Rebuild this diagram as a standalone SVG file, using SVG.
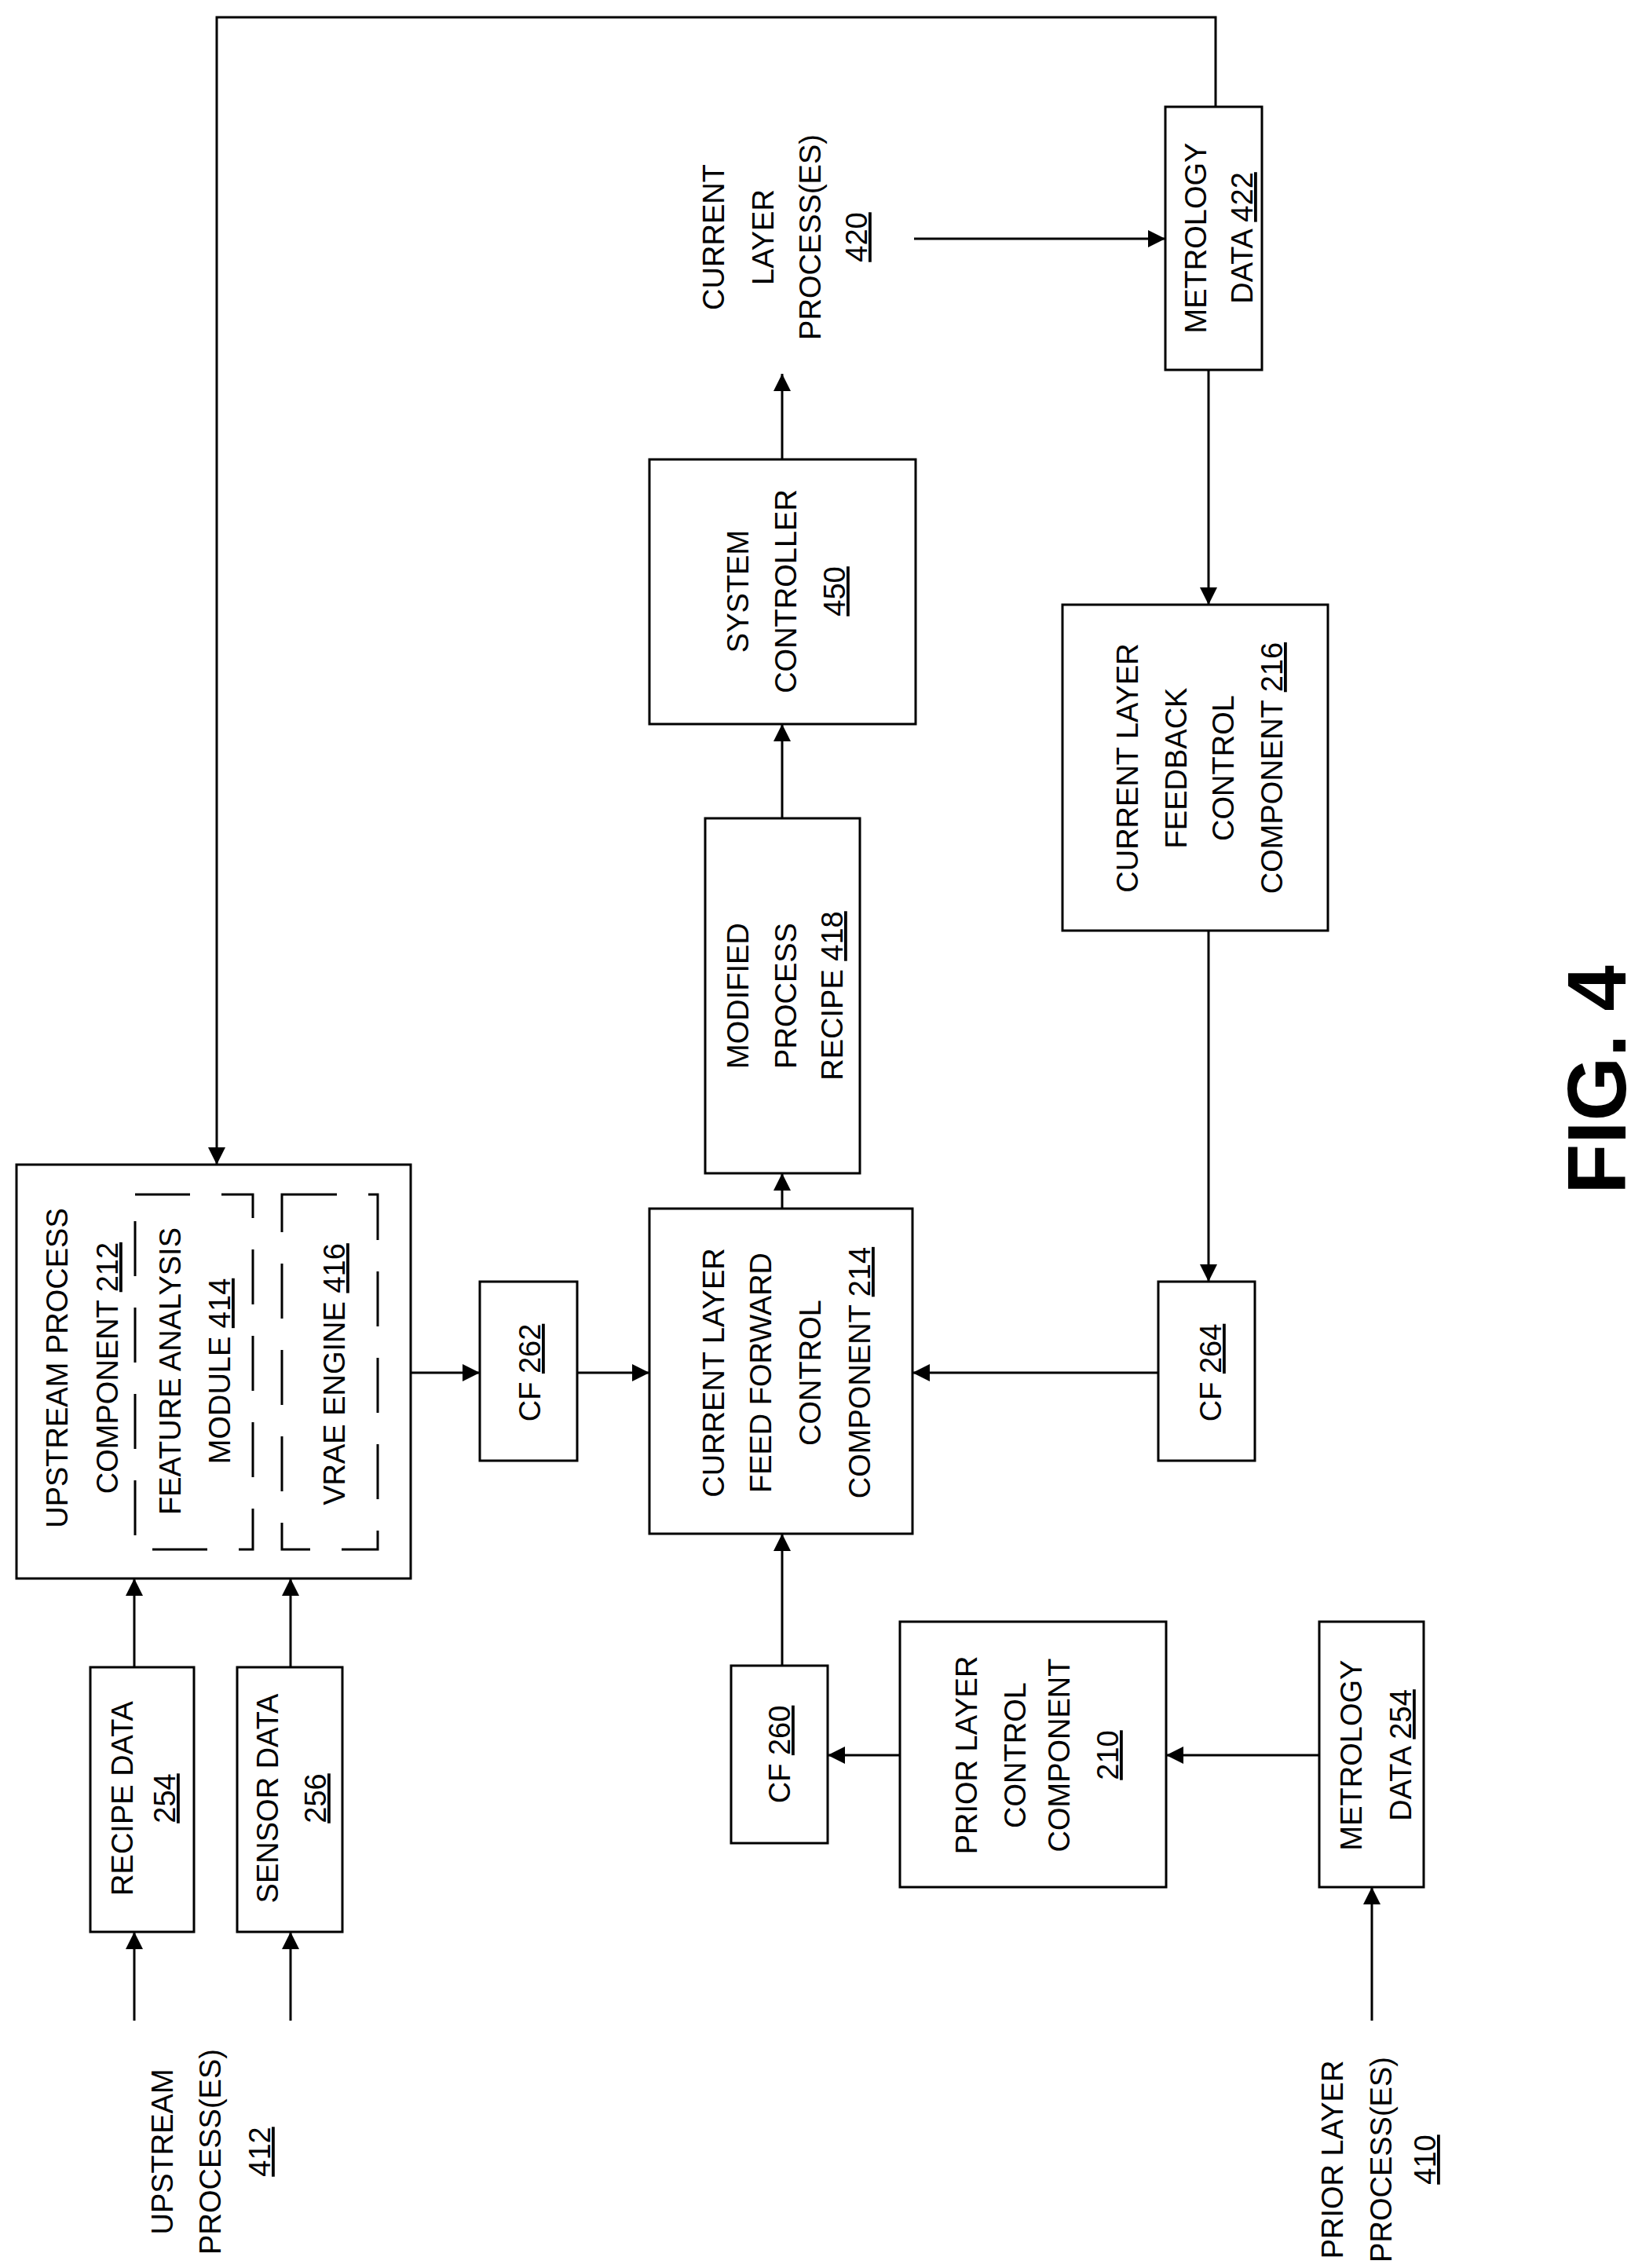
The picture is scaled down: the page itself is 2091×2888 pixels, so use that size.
<svg xmlns="http://www.w3.org/2000/svg" width="2091" height="2888" viewBox="0 0 2091 2888">
<style>
.b{fill:none;stroke:#000;stroke-width:3}
.d{fill:none;stroke:#000;stroke-width:3;stroke-dasharray:70,40}
.c{fill:none;stroke:#000;stroke-width:3;marker-end:url(#a)}
text{font-family:"Liberation Sans",Arial,sans-serif;font-size:38px;fill:#000;text-anchor:middle}
.u{text-decoration:underline}
.fig{font-size:105px;font-weight:bold}
</style>
<defs><marker id="a" viewBox="0 0 10 10" refX="10" refY="5" markerWidth="22" markerHeight="22" markerUnits="userSpaceOnUse" orient="auto"><path d="M0,0 L10,5 L0,10 z" fill="#000"/></marker></defs>
<g id="connectors">
<path class="c" d="M1548,136 V22 H276 V1483"/>
<path class="c" d="M1164,304 H1484"/>
<path class="c" d="M1539,471 V770"/>
<path class="c" d="M1539,1185 V1632"/>
<path class="c" d="M1475,1748 H1162"/>
<path class="c" d="M996,1539 V1494"/>
<path class="c" d="M996,1042 V922"/>
<path class="c" d="M996,585 V476"/>
<path class="c" d="M996,2121 V1953"/>
<path class="c" d="M1146,2235 H1054"/>
<path class="c" d="M1680,2235 H1485"/>
<path class="c" d="M1747,2573 V2403"/>
<path class="c" d="M523,1748 H611"/>
<path class="c" d="M735,1748 H827"/>
<path class="c" d="M171,2123 V2010"/>
<path class="c" d="M370,2123 V2010"/>
<path class="c" d="M171,2573 V2460"/>
<path class="c" d="M370,2573 V2460"/>
</g>
<g id="upstream212"><rect class="b" x="21" y="1483" width="502" height="527"/>
<g transform="translate(0,1742) rotate(-90)"><text y="86">UPSTREAM PROCESS</text><text y="150">COMPONENT <tspan class="u">212</tspan></text></g></g>
<g id="feature414"><rect class="d" x="172" y="1521" width="150" height="452"/>
<g transform="translate(0,1746) rotate(-90)"><text y="230">FEATURE ANALYSIS</text><text y="293">MODULE <tspan class="u">414</tspan></text></g></g>
<g id="vrae416"><rect class="d" x="359" y="1521" width="122" height="452"/>
<g transform="translate(0,1750) rotate(-90)"><text y="439">VRAE ENGINE <tspan class="u">416</tspan></text></g></g>
<g id="cf262"><rect class="b" x="611" y="1632" width="124" height="228"/>
<g transform="translate(0,1748) rotate(-90)"><text y="688">CF <tspan class="u">262</tspan></text></g></g>
<g id="clff214"><rect class="b" x="827" y="1539" width="335" height="414"/>
<g transform="translate(0,1748) rotate(-90)"><text y="922">CURRENT LAYER</text><text y="982">FEED FORWARD</text><text y="1045">CONTROL</text><text y="1108">COMPONENT <tspan class="u">214</tspan></text></g></g>
<g id="recipe254"><rect class="b" x="115" y="2123" width="132" height="337"/>
<g transform="translate(0,2290) rotate(-90)"><text y="169">RECIPE DATA</text><text y="223" class="u">254</text></g></g>
<g id="sensor256"><rect class="b" x="302" y="2123" width="134" height="337"/>
<g transform="translate(0,2290) rotate(-90)"><text y="354">SENSOR DATA</text><text y="415" class="u">256</text></g></g>
<g id="upstream412"><g transform="translate(0,2740) rotate(-90)"><text y="220">UPSTREAM</text><text y="281">PROCESS(ES)</text><text y="344" class="u">412</text></g></g>
<g id="cf260"><rect class="b" x="931" y="2121" width="123" height="226"/>
<g transform="translate(0,2234) rotate(-90)"><text y="1006">CF <tspan class="u">260</tspan></text></g></g>
<g id="prior210"><rect class="b" x="1146" y="2065" width="339" height="338"/>
<g transform="translate(0,2235) rotate(-90)"><text y="1244">PRIOR LAYER</text><text y="1306">CONTROL</text><text y="1362">COMPONENT</text><text y="1424" class="u">210</text></g></g>
<g id="metrology254"><rect class="b" x="1680" y="2065" width="133" height="338"/>
<g transform="translate(0,2235) rotate(-90)"><text y="1734">METROLOGY</text><text y="1797">DATA <tspan class="u">254</tspan></text></g></g>
<g id="prior410"><g transform="translate(0,2750) rotate(-90)"><text y="1710">PRIOR LAYER</text><text y="1772">PROCESS(ES)</text><text y="1828" class="u">410</text></g></g>
<g id="cf264"><rect class="b" x="1475" y="1632" width="123" height="228"/>
<g transform="translate(0,1748) rotate(-90)"><text y="1555">CF <tspan class="u">264</tspan></text></g></g>
<g id="clfb216"><rect class="b" x="1353" y="770" width="338" height="415"/>
<g transform="translate(0,978) rotate(-90)"><text y="1449">CURRENT LAYER</text><text y="1511">FEEDBACK</text><text y="1571">CONTROL</text><text y="1633">COMPONENT <tspan class="u">216</tspan></text></g></g>
<g id="metrology422"><rect class="b" x="1484" y="136" width="123" height="335"/>
<g transform="translate(0,303) rotate(-90)"><text y="1536">METROLOGY</text><text y="1595">DATA <tspan class="u">422</tspan></text></g></g>
<g id="sysctrl450"><rect class="b" x="827" y="585" width="339" height="337"/>
<g transform="translate(0,753) rotate(-90)"><text y="953">SYSTEM</text><text y="1014">CONTROLLER</text><text y="1076" class="u">450</text></g></g>
<g id="modified418"><rect class="b" x="898" y="1042" width="197" height="452"/>
<g transform="translate(0,1268) rotate(-90)"><text y="953">MODIFIED</text><text y="1014">PROCESS</text><text y="1073">RECIPE <tspan class="u">418</tspan></text></g></g>
<g id="current420"><g transform="translate(0,302) rotate(-90)"><text y="922">CURRENT</text><text y="985">LAYER</text><text y="1045">PROCESS(ES)</text><text y="1104" class="u">420</text></g></g>
<g id="fig"><g transform="translate(0,1375) rotate(-90)"><text y="2070" class="fig">FIG. 4</text></g></g>
</svg>
